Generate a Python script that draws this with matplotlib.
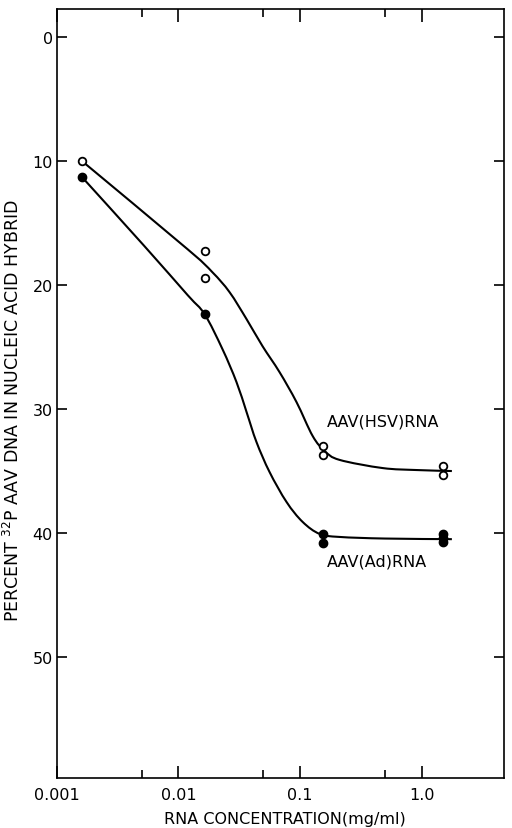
import numpy as np
import matplotlib
matplotlib.use("Agg")
import matplotlib.pyplot as plt
from matplotlib.path import Path
from matplotlib.patches import PathPatch

# measured points (open circles = AAV(HSV) RNA, filled = AAV(Ad) RNA)
hsv_x = [0.00162, 0.0164, 0.0164, 0.153, 0.153, 1.49, 1.49]
hsv_y = [10.0, 17.2, 19.4, 33.0, 33.7, 34.6, 35.3]
ad_x = [0.00162, 0.0164, 0.153, 0.153, 1.49, 1.49, 1.49]
ad_y = [11.3, 22.3, 40.1, 40.8, 40.1, 40.4, 40.7]

# hand drawn curves, nodes
hsv_curve_x = [0.00162, 0.0119, 0.0190, 0.0263, 0.0363, 0.0491,
               0.0678, 0.0935, 0.127, 0.160, 0.211, 0.477, 0.908, 1.77]
hsv_curve_y = [10.0, 17.1, 18.95, 20.56, 22.74, 24.92,
               27.02, 29.44, 32.18, 33.4, 34.1, 34.76, 34.92, 35.0]
ad_curve_x = [0.00162, 0.0052, 0.0119, 0.0164, 0.0230, 0.0300, 0.0363,
              0.0438, 0.0561, 0.0774, 0.105, 0.145, 0.211, 0.5, 1.77]
ad_curve_y = [11.3, 16.8, 20.8, 22.34, 25.16, 27.82, 30.24,
              32.66, 35.08, 37.5, 39.11, 40.08, 40.32, 40.45, 40.5]

y_ticks = [0, 10, 20, 30, 40, 50]
x_ticks = [0.001, 0.01, 0.1, 1.0]
x_tick_labels = ['0.001', '0.01', '0.1', '1.0']
x_minor = [0.005, 0.05, 0.5]


# Smooth curve through the nodes (Catmull-Rom as cubic Bezier, in log-x space)
def smooth_path(xs, ys):
    lx = np.log10(xs)
    ys = np.asarray(ys, dtype=float)
    pts = np.column_stack([lx, ys])
    n = len(pts)
    verts = [pts[0]]
    codes = [Path.MOVETO]
    for i in range(n - 1):
        p0 = pts[max(i - 1, 0)]
        p1 = pts[i]
        p2 = pts[i + 1]
        p3 = pts[min(i + 2, n - 1)]
        c1 = p1 + (p2 - p0) / 6.0
        c2 = p2 - (p3 - p1) / 6.0
        verts += [c1, c2, p2]
        codes += [Path.CURVE4] * 3
    verts = np.array(verts)
    verts[:, 0] = 10 ** verts[:, 0]
    return Path(verts, codes)


plt.rcParams['font.family'] = ['DejaVu Sans']

fig = plt.figure(figsize=(5.12, 8.29), dpi=100)
ax = fig.add_axes([0.111, 0.060, 0.873, 0.928])

ax.set_xscale('log')
ax.set_xlim(0.001, 4.73)
ax.set_ylim(59.8, -2.3)

# curves
for cx, cy in [(hsv_curve_x, hsv_curve_y), (ad_curve_x, ad_curve_y)]:
    patch = PathPatch(smooth_path(cx, cy), facecolor='none', edgecolor='black',
                      lw=1.5, zorder=2)
    ax.add_patch(patch)

# data points
ax.plot(hsv_x, hsv_y, 'o', color='black', mfc='white', mec='black',
        ms=5.5, mew=1.3, zorder=3)
ax.plot(ad_x, ad_y, 'o', color='black', ms=6, zorder=3)

ax.set_xticks(x_ticks)
ax.set_xticklabels(x_tick_labels)
ax.set_xticks(x_minor, minor=True)
ax.set_yticks(y_ticks)

ax.tick_params(axis='x', which='major', direction='in', length=9, width=1.2,
               top=True, labelsize=11.5, pad=6)
ax.tick_params(axis='x', which='minor', direction='in', length=6, width=1.2,
               top=True, labelbottom=False)
ax.tick_params(axis='y', which='major', direction='in', length=7, width=1.2,
               right=True, labelsize=11.5, pad=3)
ax.tick_params(axis='y', which='minor', left=False, right=False)

for sp in ax.spines.values():
    sp.set_linewidth(1.2)

ax.text(0.165, 31.0, 'AAV(HSV)RNA', fontsize=11.5, ha='left', va='center')
ax.text(0.165, 42.3, 'AAV(Ad)RNA', fontsize=11.5, ha='left', va='center')

ax.set_xlabel('RNA CONCENTRATION(mg/ml)', fontsize=11.5)
ax.xaxis.set_label_coords(0.51, -0.042)
ax.set_ylabel('PERCENT $^{32}$P AAV DNA IN NUCLEIC ACID HYBRID', fontsize=12.5)
ax.yaxis.set_label_coords(-0.075, 0.48)

fig.savefig('out.png', dpi=100)
